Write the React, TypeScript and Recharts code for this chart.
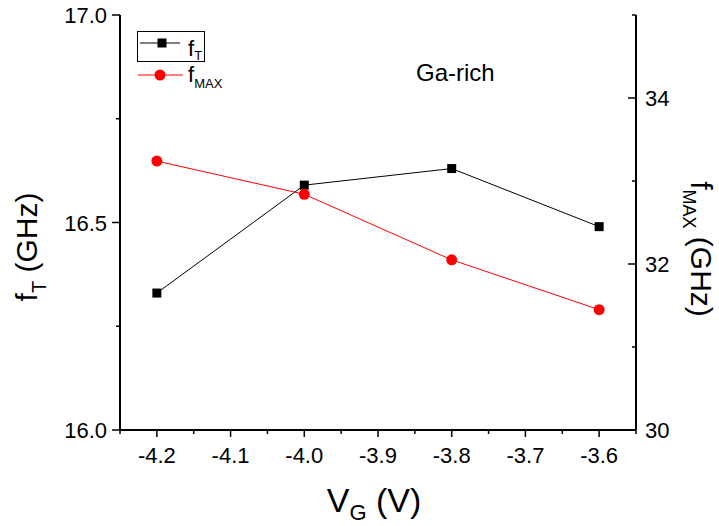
import React from 'react';
import { LineChart, Line, XAxis, YAxis, Legend, Customized } from 'recharts';

// ---- data ----
const vgValues = [-4.2, -4.0, -3.8, -3.6];
const fTValues = [16.33, 16.59, 16.63, 16.49];
const fMaxValues = [33.24, 32.84, 32.05, 31.45];

// ---- ticks ----
const xTicks = [-4.25, -4.2, -4.15, -4.1, -4.05, -4.0, -3.95, -3.9, -3.85, -3.8, -3.75, -3.7, -3.65, -3.6, -3.55];
const xMajor = [-4.2, -4.1, -4.0, -3.9, -3.8, -3.7, -3.6];
const leftTicks = [16.0, 16.25, 16.5, 16.75, 17.0];
const leftMajor = [16.0, 16.5, 17.0];
const rightTicks = [30, 31, 32, 33, 34, 35];
const rightMajor = [30, 32, 34];

const data = vgValues.map((v, i) => ({ vg: v, fT: fTValues[i], fMax: fMaxValues[i] }));

const FONT = '"Liberation Sans", Arial, Helvetica, sans-serif';
const isIn = (arr: number[], v: number) => arr.some((a) => Math.abs(a - v) < 1e-6);

const BottomTick = (props: any) => {
  const { x, y, payload } = props;
  const major = isIn(xMajor, payload.value);
  return (
    <g>
      <line x1={x} x2={x} y1={y} y2={y + (major ? 7 : 4)} stroke="#000" strokeWidth={1.5} />
      {major && (
        <text x={x} y={y + 33} textAnchor="middle" fontSize={22} fontFamily={FONT} fill="#000">
          {payload.value.toFixed(1)}
        </text>
      )}
    </g>
  );
};

const TopTick = (props: any) => {
  const { x, y, payload } = props;
  const major = isIn(xMajor, payload.value);
  return <line x1={x} x2={x} y1={y} y2={y + (major ? 8 : 4)} stroke="#000" strokeWidth={1.5} />;
};

const LeftTick = (props: any) => {
  const { x, y, payload } = props;
  const major = isIn(leftMajor, payload.value);
  return (
    <g>
      <line x1={x - (major ? 8 : 4)} x2={x} y1={y} y2={y} stroke="#000" strokeWidth={1.5} />
      {major && (
        <text x={x - 13} y={y + 8} textAnchor="end" fontSize={22} fontFamily={FONT} fill="#000">
          {payload.value.toFixed(1)}
        </text>
      )}
    </g>
  );
};

const RightTick = (props: any) => {
  const { x, y, payload } = props;
  const major = isIn(rightMajor, payload.value);
  return (
    <g>
      <line x1={x - (major ? 8 : 4)} x2={x} y1={y} y2={y} stroke="#000" strokeWidth={1.5} />
      {major && (
        <text x={x + 9} y={y + 8} textAnchor="start" fontSize={22} fontFamily={FONT} fill="#000">
          {String(payload.value)}
        </text>
      )}
    </g>
  );
};

const SquareDot = (props: any) => {
  const { cx, cy, index } = props;
  if (cx == null || cy == null) return <g key={`sq-${index}`} />;
  return <rect key={`sq-${index}`} x={cx - 4.5} y={cy - 4.5} width={9} height={9} fill="#000" />;
};

const LegendContent = () => (
  <svg width={110} height={70} style={{ display: 'block', overflow: 'visible' }}>
    <rect x={0.5} y={0.5} width={67} height={30} fill="none" stroke="#000" strokeWidth={1} />
    <line x1={3} x2={43} y1={12} y2={12} stroke="#000" strokeWidth={1} />
    <rect x={20.5} y={7.5} width={9} height={9} fill="#000" />
    <text x={51} y={25} fontSize={22} fontFamily={FONT} fill="#000">
      f<tspan fontSize={13} dy={4}>T</tspan>
    </text>
    <line x1={1} x2={46} y1={44} y2={44} stroke="#ff0000" strokeWidth={1} />
    <circle cx={23} cy={44} r={5.5} fill="#ff0000" />
    <text x={51} y={51} fontSize={22} fontFamily={FONT} fill="#000">
      f<tspan fontSize={13} dy={6}>MAX</tspan>
    </text>
  </svg>
);

const Annotations = () => (
  <g fontFamily={FONT} fill="#000">
    <text x={416} y={81} fontSize={24}>Ga-rich</text>
    <text x={374} y={512} fontSize={34} textAnchor="middle">
      V<tspan fontSize={22} dy={8}>G</tspan>
      <tspan dy={-8}> (V)</tspan>
    </text>
    <text x={37} y={247} fontSize={30} textAnchor="middle" transform="rotate(-90, 37, 247)">
      f<tspan fontSize={20} dy={9}>T</tspan>
      <tspan dy={-9}> (GHz)</tspan>
    </text>
    <text x={691} y={249} fontSize={30} textAnchor="middle" transform="rotate(90, 691, 249)">
      f<tspan fontSize={18} dy={8}>MAX</tspan>
      <tspan dy={-8}> (GHz)</tspan>
    </text>
  </g>
);

export default function App() {
  return (
    <div style={{ position: 'absolute', left: 0, top: 0, width: 719, height: 526, background: '#fff' }}>
      <LineChart width={719} height={526} data={data} margin={{ top: 15, right: 0, bottom: 0, left: 0 }}>
        <XAxis
          xAxisId="bottom"
          dataKey="vg"
          type="number"
          domain={[-4.25, -3.55]}
          ticks={xTicks}
          interval={0}
          allowDataOverflow
          height={96}
          tickSize={0}
          tickMargin={0}
          tickLine={false}
          axisLine={{ stroke: '#000', strokeWidth: 2 }}
          tick={(p: any) => <BottomTick {...p} />}
        />
        <XAxis
          xAxisId="top"
          orientation="top"
          type="number"
          domain={[-4.25, -3.55]}
          ticks={xTicks}
          interval={0}
          allowDataOverflow
          height={0}
          tickSize={0}
          tickMargin={0}
          tickLine={false}
          axisLine={{ stroke: '#000', strokeWidth: 2 }}
          tick={(p: any) => <TopTick {...p} />}
        />
        <YAxis
          yAxisId="left"
          type="number"
          domain={[16, 17]}
          ticks={leftTicks}
          interval={0}
          allowDataOverflow
          width={120}
          tickSize={0}
          tickMargin={0}
          tickLine={false}
          axisLine={{ stroke: '#000', strokeWidth: 2 }}
          tick={(p: any) => <LeftTick {...p} />}
        />
        <YAxis
          yAxisId="right"
          orientation="right"
          type="number"
          domain={[30, 35]}
          ticks={rightTicks}
          interval={0}
          allowDataOverflow
          width={83}
          tickSize={0}
          tickMargin={0}
          tickLine={false}
          axisLine={{ stroke: '#000', strokeWidth: 2 }}
          tick={(p: any) => <RightTick {...p} />}
        />
        <Line
          xAxisId="bottom"
          yAxisId="left"
          dataKey="fT"
          name="fT"
          stroke="#000"
          strokeWidth={1}
          dot={(p: any) => <SquareDot {...p} />}
          activeDot={false}
          isAnimationActive={false}
        />
        <Line
          xAxisId="bottom"
          yAxisId="right"
          dataKey="fMax"
          name="fMAX"
          stroke="#ff0000"
          strokeWidth={1}
          dot={{ r: 5.5, fill: '#ff0000', stroke: '#ff0000', strokeWidth: 0 }}
          activeDot={false}
          isAnimationActive={false}
        />
        <Legend
          layout="horizontal"
          verticalAlign="middle"
          align="center"
          content={() => <LegendContent />}
          wrapperStyle={{ left: 137, top: 31, width: 110, height: 70 }}
        />
        <Customized component={Annotations} />
      </LineChart>
    </div>
  );
}
